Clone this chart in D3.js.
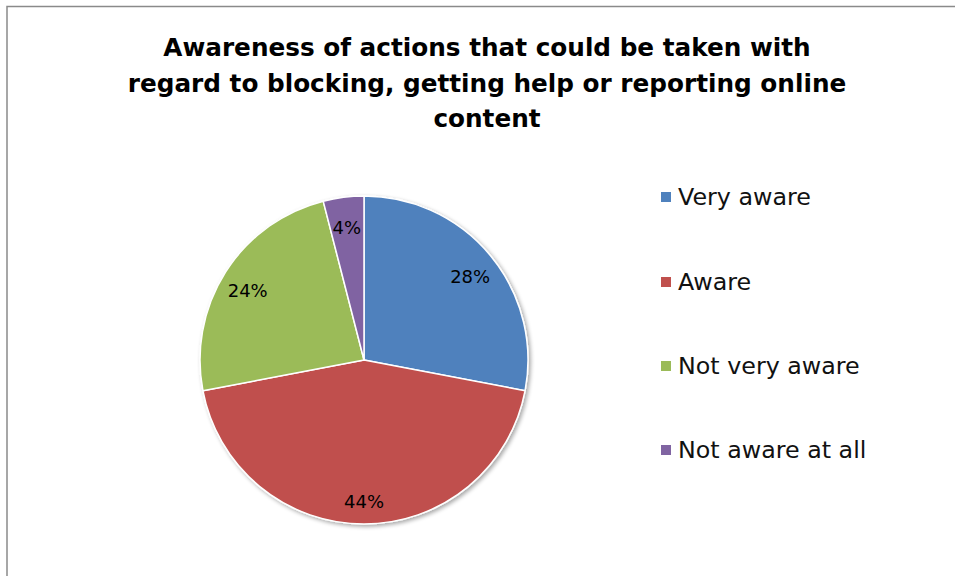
<!DOCTYPE html>
<html>
<head>
<meta charset="utf-8">
<script src="https://cdn.jsdelivr.net/npm/d3@7"></script>
<style>
  html, body { margin: 0; padding: 0; background: #fff; }
  svg { display: block; }
  text { font-family: "Century Gothic", "URW Gothic", "DejaVu Sans", sans-serif; }
</style>
</head>
<body>
<svg id="chart" width="955" height="576"></svg>
<script>
const titleLines = [
  "Awareness of actions that could be taken with",
  "regard to blocking, getting help or reporting online",
  "content"
];
const categories = ["Very aware", "Aware", "Not very aware", "Not aware at all"];
const values = [28, 44, 24, 4];
const colors = ["#4F81BD", "#C0504D", "#9BBB59", "#8064A2"];

const svg = d3.select("#chart");

// shadow filter
const defs = svg.append("defs");
const f = defs.append("filter").attr("id", "shadow").attr("x", "-10%").attr("y", "-10%").attr("width", "130%").attr("height", "130%");
f.append("feGaussianBlur").attr("in", "SourceAlpha").attr("stdDeviation", 2);
f.append("feOffset").attr("dx", 1.5).attr("dy", 2).attr("result", "ob");
f.append("feComponentTransfer").append("feFuncA").attr("type", "linear").attr("slope", 0.35);
const fm = f.append("feMerge");
fm.append("feMergeNode");
fm.append("feMergeNode").attr("in", "SourceGraphic");

// chart border (left + top visible)
svg.append("rect")
  .attr("x", 7).attr("y", 6.5)
  .attr("width", 1000).attr("height", 1000)
  .attr("fill", "none").attr("stroke", "#8a8a8a").attr("stroke-width", 1.5);

// Title
const title = svg.append("g");
const titleBase = [56, 91.5, 127];
const tEls = title.selectAll("text").data(titleLines).join("text")
  .attr("x", 487).attr("y", (d, i) => titleBase[i])
  .attr("text-anchor", "middle")
  .attr("font-weight", "bold")
  .attr("font-size", 24)
  .attr("fill", "#000")
  .text(d => d);
const w2 = tEls.nodes()[1].getComputedTextLength();
const tSize = Math.min(26, 24 * 719 / w2);
tEls.attr("font-size", tSize);

// Pie
const cx = 364, cy = 360, R = 164;
const pie = d3.pie().sort(null).value(d => d)(values);
const arc = d3.arc().innerRadius(0).outerRadius(R);
const labelArc = d3.arc().innerRadius(R * 0.84).outerRadius(R * 0.84);

const g = svg.append("g").attr("transform", `translate(${cx},${cy})`);
g.append("g").attr("filter", "url(#shadow)")
  .selectAll("path").data(pie).join("path")
  .attr("d", arc)
  .attr("fill", (d, i) => colors[i])
  .attr("stroke", "#fff").attr("stroke-width", 1.5).attr("stroke-linejoin", "round");

g.selectAll("text.lbl").data(pie).join("text")
  .attr("class", "lbl")
  .attr("transform", d => { const c = labelArc.centroid(d); return `translate(${c[0]},${c[1] + 4})`; })
  .attr("text-anchor", "middle")
  .attr("dominant-baseline", "central")
  .attr("font-size", 18)
  .attr("fill", "#000")
  .text(d => d.data + "%");

// Legend
const legY = [197, 282, 366, 450];
const leg = svg.append("g");
const items = leg.selectAll("g").data(categories).join("g")
  .attr("transform", (d, i) => `translate(661,${legY[i]})`);
items.append("rect")
  .attr("x", 0).attr("y", -5).attr("width", 10).attr("height", 10)
  .attr("fill", (d, i) => colors[i]);
const lt = items.append("text")
  .attr("x", 17).attr("y", 0)
  .attr("dominant-baseline", "central")
  .attr("font-size", 22)
  .attr("fill", "#111")
  .text(d => d);
const lw = lt.nodes()[0].getComputedTextLength();
lt.attr("font-size", Math.min(24, 22 * 133 / lw));
</script>
</body>
</html>
